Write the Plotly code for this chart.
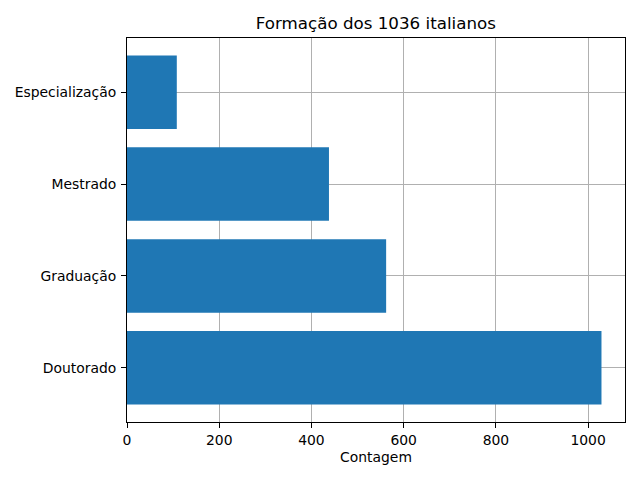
import plotly.graph_objects as go

categorias = ['Doutorado', 'Graduação', 'Mestrado', 'Especialização']
contagem = [1029, 562, 438, 108]
titulo = 'Formação dos 1036 italianos'


def generate_figure():
    fig = go.Figure(go.Bar(
        x=contagem,
        y=categorias,
        orientation='h',
        width=0.8,
        marker=dict(color='#1f77b4', line=dict(width=0)),
    ))
    axis_common = dict(
        showgrid=True, gridcolor='#b0b0b0', gridwidth=1,
        showline=True, linecolor='black', linewidth=1, mirror=True,
        ticks='outside', ticklen=5, tickcolor='black',
        layer='above traces', zeroline=False, automargin=False,
        tickfont=dict(family='DejaVu Sans', size=13.9, color='black'),
    )
    fig.update_xaxes(range=[0, 1080], dtick=200, **axis_common,
                     title=dict(text='Contagem', font=dict(family='DejaVu Sans', size=13.9, color='black'),
                                standoff=5))
    fig.update_yaxes(range=[-0.59, 3.59], ticklabelstandoff=2, **axis_common)
    fig.update_layout(
        width=632, height=472,
        title=dict(text=titulo, x=0.582, xanchor='center', y=0.968, yanchor='middle',
                   font=dict(family='DejaVu Sans', size=16.7, color='black')),
        margin=dict(l=119, r=15, t=30, b=58),
        plot_bgcolor='white', paper_bgcolor='white',
        showlegend=False,
    )
    return fig


def main():
    fig = generate_figure()
    fig.write_html('out.html')


if __name__ == '__main__':
    main()
